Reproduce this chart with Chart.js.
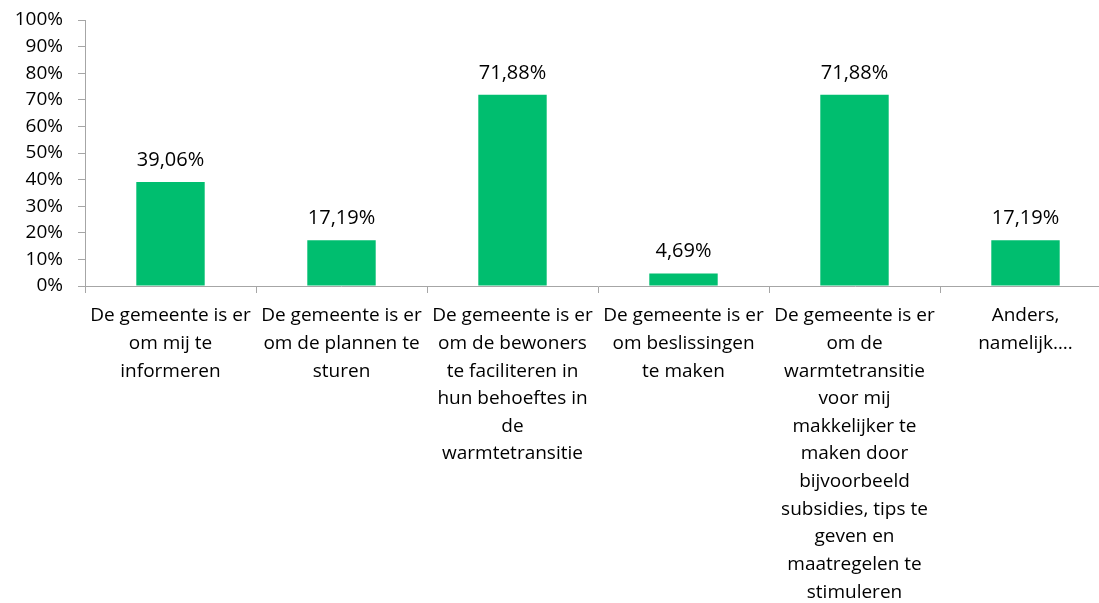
<!DOCTYPE html>
<html>
<head>
<meta charset="utf-8">
<script src="https://cdn.jsdelivr.net/npm/chart.js@4/dist/chart.umd.min.js"></script>
<style>
  html, body { margin: 0; padding: 0; background: #fff; overflow: hidden; }
  #wrap { width: 1111px; height: 603px; position: relative; }
</style>
</head>
<body>
<div id="wrap"><canvas id="chart"></canvas></div>
<script>
// categories (each line of the wrapped label)
const categories = [
  ['De gemeente is er', 'om mij te', 'informeren'],
  ['De gemeente is er', 'om de plannen te', 'sturen'],
  ['De gemeente is er', 'om de bewoners', 'te faciliteren in', 'hun behoeftes in', 'de', 'warmtetransitie'],
  ['De gemeente is er', 'om beslissingen', 'te maken'],
  ['De gemeente is er', 'om de', 'warmtetransitie', 'voor mij', 'makkelijker te', 'maken door', 'bijvoorbeeld', 'subsidies, tips te', 'geven en', 'maatregelen te', 'stimuleren'],
  ['Anders,', 'namelijk….']
]
const percentages = [39.06, 17.19, 71.88, 4.69, 71.88, 17.19]
const yTicks = [0, 10, 20, 30, 40, 50, 60, 70, 80, 90, 100]

const fontFamily = '"Open Sans", sans-serif'

// draws the value above each bar, like Excel's data labels
const valueLabels = {
  id: 'valueLabels',
  afterDatasetsDraw(chart) {
    const c = chart.ctx
    const meta = chart.getDatasetMeta(0)
    c.save()
    c.font = '20px ' + fontFamily
    c.fillStyle = '#000'
    c.textAlign = 'center'
    c.textBaseline = 'middle'
    meta.data.forEach((bar, i) => {
      const txt = percentages[i].toFixed(2).replace('.', ',') + '%'
      c.fillText(txt, bar.x, bar.y - 22)
    })
    c.restore()
  }
}

new Chart(document.querySelector('#chart'), {
  type: 'bar',
  data: {
    labels: categories,
    datasets: [{
      data: percentages,
      backgroundColor: '#00be6f',
      borderWidth: 0,
      categoryPercentage: 1,
      barPercentage: 0.4
    }]
  },
  options: {
    responsive: true,
    maintainAspectRatio: false,
    animation: false,
    layout: { padding: { top: 20, left: 0, right: 0, bottom: 0 } },
    plugins: { legend: { display: false }, tooltip: { enabled: false } },
    scales: {
      x: {
        offset: true,
        grid: { offset: true, drawOnChartArea: false, drawTicks: true, tickLength: 7, color: '#a6a6a6' },
        border: { color: '#a6a6a6', width: 1 },
        ticks: {
          autoSkip: false, maxRotation: 0, minRotation: 0, padding: 9,
          color: '#000', font: { family: fontFamily, size: 19, lineHeight: 1.455 }
        },
        afterFit(scale) { scale.height = 317; scale.paddingTop = 0; scale.paddingBottom = 0 }
      },
      y: {
        min: 0, max: 100,
        afterBuildTicks(scale) { scale.ticks = yTicks.map(v => ({ value: v })) },
        grid: { drawOnChartArea: false, drawTicks: true, tickLength: 7, color: '#a6a6a6' },
        border: { color: '#a6a6a6', width: 1 },
        ticks: {
          padding: 15, color: '#000',
          font: { family: fontFamily, size: 19 },
          callback: v => v + '%'
        },
        afterFit(scale) { scale.width = 85; scale.paddingTop = 0; scale.paddingBottom = 0 }
      }
    }
  },
  plugins: [valueLabels]
})
</script>
</body>
</html>
